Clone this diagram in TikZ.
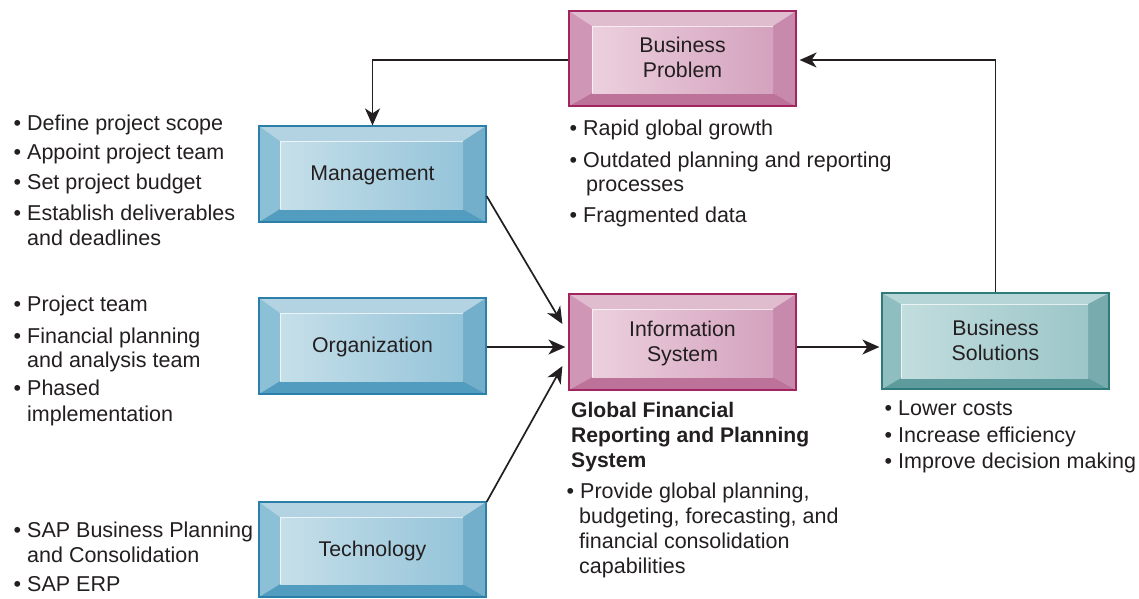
\documentclass[tikz,border=0pt]{standalone}
\usepackage{fontspec}
\setmainfont{Liberation Sans}
\usetikzlibrary{arrows.meta}
\definecolor{txt}{HTML}{231F20}
% blue palette
\definecolor{cbtop}{HTML}{B3D3E2}
\definecolor{cbleft}{HTML}{8CC0D6}
\definecolor{cbright}{HTML}{73AECB}
\definecolor{cbbot}{HTML}{529DBF}
\definecolor{cbinA}{HTML}{C6DFE9}
\definecolor{cbinB}{HTML}{95C4D9}
\definecolor{cbborder}{HTML}{2B7FA8}
% pink palette
\definecolor{cptop}{HTML}{E0BCCF}
\definecolor{cpleft}{HTML}{CF96B6}
\definecolor{cpright}{HTML}{C88AAC}
\definecolor{cpbot}{HTML}{BC7299}
\definecolor{cpinA}{HTML}{ECD0DE}
\definecolor{cpinB}{HTML}{D4A2BE}
\definecolor{cpborder}{HTML}{A3255F}
% teal palette
\definecolor{cttop}{HTML}{B5D5D6}
\definecolor{ctleft}{HTML}{8EBEBF}
\definecolor{ctright}{HTML}{77ABAD}
\definecolor{ctbot}{HTML}{5E9B9D}
\definecolor{ctinA}{HTML}{C2DDDE}
\definecolor{ctinB}{HTML}{9CC6C8}
\definecolor{ctborder}{HTML}{2F7B7C}
\newcommand\setbev[4]{\def\bL{#1}\def\bT{#2}\def\bR{#3}\def\bB{#4}}
\newcommand\bevbox[7]{%
 \fill[#6top] (#2,#3) -- (#4,#3) -- ({#4-\bR},{#3+\bT}) -- ({#2+\bL},{#3+\bT}) -- cycle;
 \fill[#6left] (#2,#3) -- ({#2+\bL},{#3+\bT}) -- ({#2+\bL},{#5-\bB}) -- (#2,#5) -- cycle;
 \fill[#6right] (#4,#3) -- (#4,#5) -- ({#4-\bR},{#5-\bB}) -- ({#4-\bR},{#3+\bT}) -- cycle;
 \fill[#6bot] (#2,#5) -- ({#2+\bL},{#5-\bB}) -- ({#4-\bR},{#5-\bB}) -- (#4,#5) -- cycle;
 \shade[left color=#6inA, right color=#6inB] ({#2+\bL},{#3+\bT}) rectangle ({#4-\bR},{#5-\bB});
 \draw[white, opacity=0.7, line width=0.9pt] ({#2+\bL},{#5-\bB}) -- ({#2+\bL},{#3+\bT}) -- ({#4-\bR},{#3+\bT});
 \node[boxnode, draw=#6border, minimum width={(#4-#2)*1pt}, minimum height={(#5-#3)*1pt}] (#1) at ({(#2+#4)/2},{(#3+#5)/2}) {#7};
}
\newcommand\mybul{\llap{•\hspace{6pt}}}
\tikzset{
  boxnode/.style={line width=1.2pt, inner sep=0pt, align=center, text=txt, font=\fontsize{21.3}{25}\selectfont, text depth=2pt},
  lbl/.style={anchor=base west, inner sep=0pt, text=txt, font=\fontsize{21.5}{25}\selectfont},
  bld/.style={lbl, font=\fontsize{21.1}{25}\selectfont\bfseries},
  conn/.style={draw=txt, line width=1.7pt, -{Stealth[length=17pt,width=15pt,inset=5pt]}},
}
\begin{document}
\begin{tikzpicture}[x=1pt,y=-1pt]
\useasboundingbox (0,0) rectangle (1139,598);
\fill[white] (0,0) rectangle (1139,598);
% boxes
\setbev{21}{15}{23}{13}
\bevbox{mg}{259}{126}{486}{222}{cb}{Management}
\bevbox{org}{259}{298}{486}{394}{cb}{Organization}
\bevbox{tech}{259}{502}{486}{597}{cb}{Technology}
\setbev{23}{15}{23}{13}
\bevbox{bp}{569}{11}{796}{106}{cp}{Business\\Problem}
\bevbox{is}{569}{294}{796}{390}{cp}{Information\\System}
\setbev{19}{11}{21}{11}
\bevbox{bs}{882}{293}{1109}{389}{ct}{Business\\Solutions}
% connectors
\coordinate (bpl) at ([yshift=-1.5pt]bp.west);
\coordinate (bpr) at ([xshift=3pt,yshift=-1.5pt]bp.east);
\draw[conn] (bpl) -- (mg.north |- bpl) -- (mg.north);
\draw[conn] (bs.north) -- (bs.north |- bpr) -- (bpr);
\draw[conn] ([yshift=-22pt]mg.east) -- ([xshift=-6pt,yshift=18pt]is.west);
\draw[conn] ([yshift=-1pt]org.east) -- ([xshift=-3pt,yshift=-5pt]is.west);
\draw[conn] ([yshift=47.5pt]tech.east) -- ([xshift=-6pt,yshift=-24pt]is.west);
\draw[conn] ([yshift=-5pt]is.east) -- ([xshift=-2pt,yshift=-6pt]bs.west);
% left texts
\node[lbl] (a1) at (27,130) {\mybul Define project scope};
\node[lbl] (a2) at (27,159) {\mybul Appoint project team};
\node[lbl] (a3) at (27,189) {\mybul Set project budget};
\node[lbl] (a4) at (27,220) {\mybul Establish deliverables};
\node[lbl] (a5) at (27,245) {and deadlines};
\node[lbl] (b1) at (27,311) {\mybul Project team};
\node[lbl] (b2) at (27,343) {\mybul Financial planning};
\node[lbl] (b3) at (27,367) {and analysis team};
\node[lbl] (b4) at (27,395) {\mybul Phased};
\node[lbl] (b5) at (27,421) {implementation};
\node[lbl] (c1) at (27,537) {\mybul SAP Business Planning};
\node[lbl] (c2) at (27,562) {and Consolidation};
\node[lbl] (c3) at (27,591) {\mybul SAP ERP};
% business problem texts
\node[lbl] (d1) at (583,135) {\mybul Rapid global growth};
\node[lbl] (d2) at (583,167) {\mybul Outdated planning and reporting};
\node[lbl] (d3) at (586,191) {processes};
\node[lbl] (d4) at (583,222) {\mybul Fragmented data};
% information system texts
\node[bld] (e1) at (571,417) {Global Financial};
\node[bld] (e2) at (571,442) {Reporting and Planning};
\node[bld] (e3) at (571,467) {System};
\node[lbl] (e4) at (580,498) {\mybul Provide global planning,};
\node[lbl] (e5) at (579,523) {budgeting, forecasting, and};
\node[lbl] (e6) at (579,548) {financial consolidation};
\node[lbl] (e7) at (579,573) {capabilities};
% business solutions texts
\node[lbl] (f1) at (898,415) {\mybul Lower costs};
\node[lbl] (f2) at (898,442) {\mybul Increase efficiency};
\node[lbl] (f3) at (898,468) {\mybul Improve decision making};
\end{tikzpicture}
\end{document}
